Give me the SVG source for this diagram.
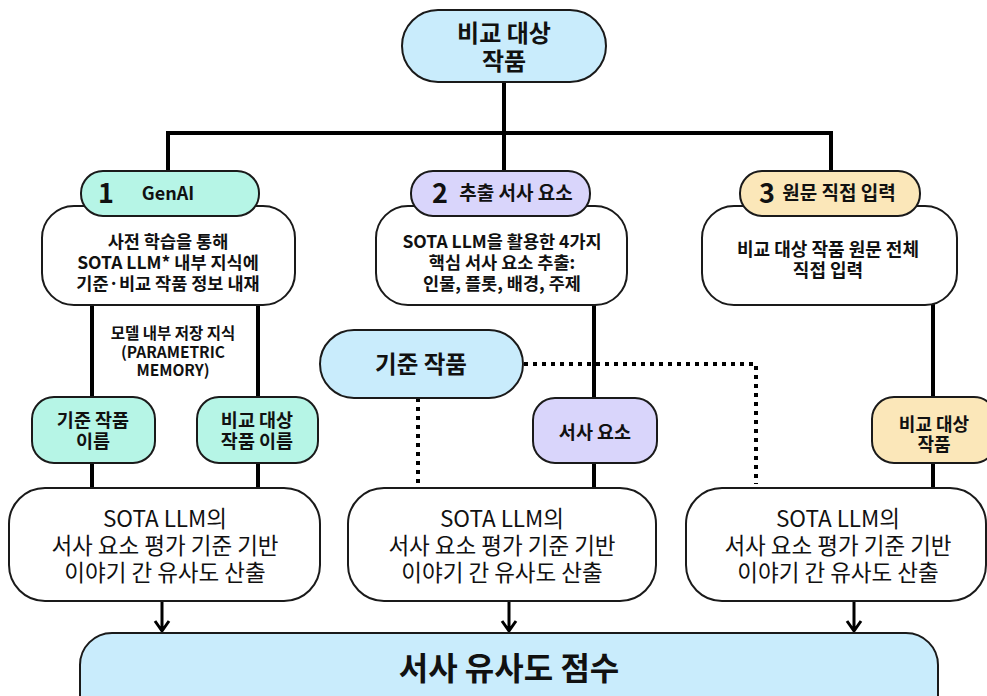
<svg xmlns="http://www.w3.org/2000/svg" width="987" height="696" viewBox="0 0 987 696">
<defs>
<style>
text{font-family:"Noto Sans CJK KR","Noto Sans",sans-serif;fill:#111;text-anchor:middle}
.b{font-weight:700}
.node{stroke:#1a1a1a;stroke-width:2}
.blue{fill:#c9ecfc}
.mint{fill:#b6f5e6}
.lav{fill:#d9d5fb}
.yel{fill:#fbe7b9}
.white{fill:#fff}
.line{stroke:#000;stroke-width:4;fill:none}
.dot{stroke:#000;stroke-width:4;fill:none;stroke-dasharray:4 5}
.arr{stroke:#000;stroke-width:3;fill:none}
</style>
</defs>
<rect width="987" height="696" fill="#fff"/>
<g id="connectors">
<path class="line" d="M504,80 V133 M166,133 H833 M168,131 V174 M504,131 V174 M831,131 V174"/>
<path class="line" d="M92,300 V490 M258,300 V490 M594,300 V490 M933,300 V490"/>
<path class="dot" d="M524,364 H756 V484 M418,398 V484"/>
<path class="arr" d="M162,601 V631 M155,621 L162,631 L169,621 M509,601 V631 M502,621 L509,631 L516,621 M854,601 V631 M847,621 L854,631 L861,621"/>
</g>
<g id="n-top"><rect class="node blue" x="402" y="10" width="204" height="72" rx="36"/>
<text class="b" font-size="24"><tspan x="504" y="42">비교 대상</tspan><tspan x="504" y="70">작품</tspan></text></g>
<g id="n-box1"><rect class="node white" x="42" y="206" width="253" height="99" rx="32"/>
<text class="b" font-size="17.5"><tspan x="168" y="248">사전 학습을 통해</tspan><tspan x="168" y="268.5">SOTA LLM* 내부 지식에</tspan><tspan x="168" y="289.5">기준·비교 작품 정보 내재</tspan></text></g>
<g id="n-genai"><rect class="node mint" x="81" y="171" width="178" height="45" rx="22"/>
<text class="b" x="106" y="203" font-size="27">1</text><text class="b" x="168" y="200" font-size="18">GenAI</text></g>
<g id="n-box2"><rect class="node white" x="376" y="206" width="251" height="99" rx="32"/>
<text class="b" font-size="17.5"><tspan x="502" y="248">SOTA LLM을 활용한 4가지</tspan><tspan x="502" y="268.5">핵심 서사 요소 추출:</tspan><tspan x="502" y="289.5">인물, 플롯, 배경, 주제</tspan></text></g>
<g id="n-extract"><rect class="node lav" x="411" y="171" width="179" height="45" rx="22"/>
<text class="b" x="440" y="203" font-size="27">2</text><text class="b" x="516" y="200" font-size="19">추출 서사 요소</text></g>
<g id="n-box3"><rect class="node white" x="702" y="206" width="255" height="99" rx="32"/>
<text class="b" font-size="18"><tspan x="828" y="255.5">비교 대상 작품 원문 전체</tspan><tspan x="828" y="276.5">직접 입력</tspan></text></g>
<g id="n-direct"><rect class="node yel" x="740" y="171" width="180" height="45" rx="22"/>
<text class="b" x="767" y="203" font-size="27">3</text><text class="b" x="839" y="200" font-size="19">원문 직접 입력</text></g>
<g id="label-param"><text class="b" font-size="15.5"><tspan x="173" y="338.5">모델 내부 저장 지식</tspan><tspan x="173" y="357.5">(PARAMETRIC</tspan><tspan x="173" y="376">MEMORY)</tspan></text></g>
<g id="n-refname"><rect class="node mint" x="32" y="397" width="123" height="66" rx="22"/>
<text class="b" font-size="18.5"><tspan x="93" y="426.5">기준 작품</tspan><tspan x="93" y="447.5">이름</tspan></text></g>
<g id="n-cmpname"><rect class="node mint" x="197" y="397" width="121" height="66" rx="22"/>
<text class="b" font-size="18.5"><tspan x="257" y="426.5">비교 대상</tspan><tspan x="257" y="447.5">작품 이름</tspan></text></g>
<g id="n-ref"><rect class="node blue" x="320" y="330" width="203" height="68" rx="34"/>
<text class="b" x="421" y="372.5" font-size="23.5">기준 작품</text></g>
<g id="n-elem"><rect class="node lav" x="533" y="398" width="124" height="65" rx="22"/>
<text class="b" x="595" y="438.5" font-size="18.5">서사 요소</text></g>
<g id="n-cmp"><rect class="node yel" x="872" y="397" width="124" height="66" rx="22"/>
<text class="b" font-size="18"><tspan x="934" y="430.5">비교 대상</tspan><tspan x="934" y="451">작품</tspan></text></g>
<g id="n-sim1"><rect class="node white" x="9" y="488" width="311" height="113" rx="36"/>
<text font-size="22.5"><tspan x="165" y="527">SOTA LLM의</tspan><tspan x="165" y="554">서사 요소 평가 기준 기반</tspan><tspan x="165" y="581">이야기 간 유사도 산출</tspan></text></g>
<g id="n-sim2"><rect class="node white" x="348" y="488" width="308" height="113" rx="36"/>
<text font-size="22.5"><tspan x="502" y="527">SOTA LLM의</tspan><tspan x="502" y="554">서사 요소 평가 기준 기반</tspan><tspan x="502" y="581">이야기 간 유사도 산출</tspan></text></g>
<g id="n-sim3"><rect class="node white" x="686" y="488" width="300" height="113" rx="36"/>
<text font-size="22.5"><tspan x="838" y="527">SOTA LLM의</tspan><tspan x="838" y="554">서사 요소 평가 기준 기반</tspan><tspan x="838" y="581">이야기 간 유사도 산출</tspan></text></g>
<g id="n-score"><rect class="node blue" x="80" y="633" width="858" height="100" rx="32"/>
<text class="b" x="509" y="679.5" font-size="32">서사 유사도 점수</text></g>
</svg>
